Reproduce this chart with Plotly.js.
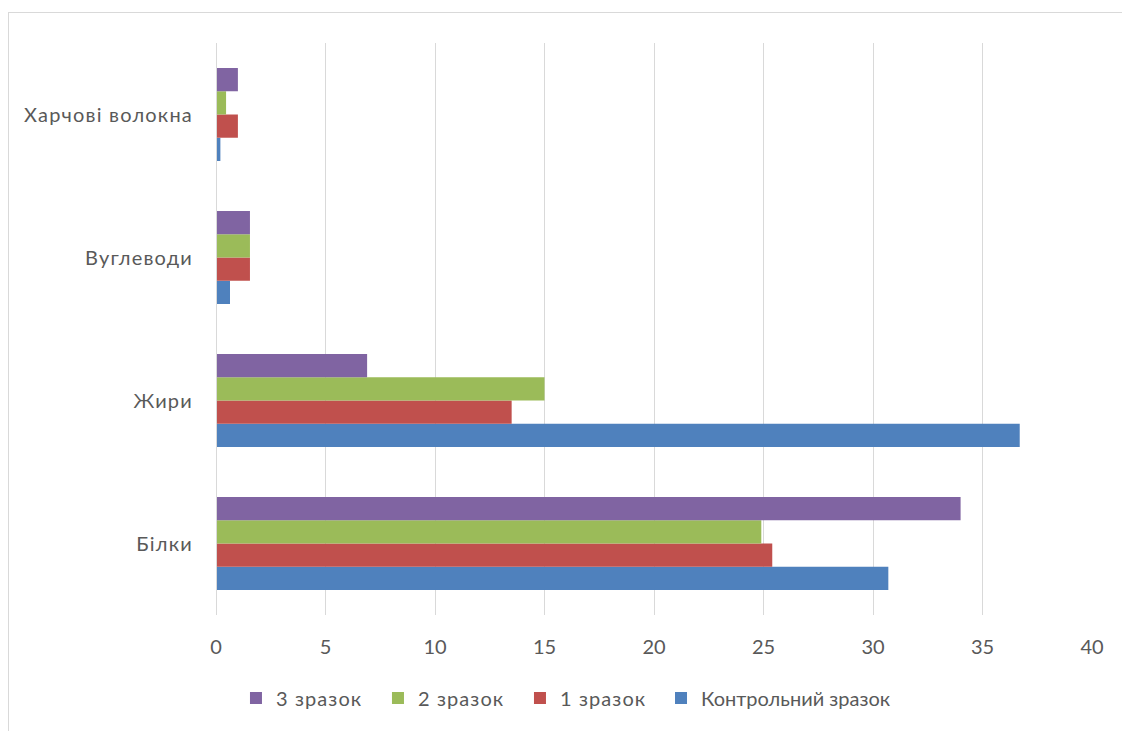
<!DOCTYPE html>
<html>
<head>
<meta charset="utf-8">
<script src="https://cdn.plot.ly/plotly-3.0.1.min.js"></script>
<style>
  html, body { margin: 0; padding: 0; background: #fff; }
  #frame { position: absolute; left: 8px; top: 12px; width: 1120px; height: 725px; border: 1px solid #d9d9d9; box-sizing: border-box; }
  #chart { position: absolute; left: 0; top: 0; width: 1122px; height: 731px; }
  #chart .ytick text { letter-spacing: 1.2px; }
  #chart .legendtext { letter-spacing: 1.1px; }
</style>
</head>
<body>
<div id="frame"></div>
<div id="chart"></div>
<script>
const categories = ["Білки", "Жири", "Вуглеводи", "Харчові волокна"];
const seriesNames = ["Контрольний зразок", "1 зразок", "2 зразок", "3 зразок"];
const control = [30.7, 36.7, 0.64, 0.2];
const sample1 = [25.4, 13.5, 1.55, 1.0];
const sample2 = [24.9, 15.0, 1.55, 0.46];
const sample3 = [34.0, 6.9, 1.55, 1.0];
const colors = ["#4f81bd", "#c0504d", "#9bbb59", "#8064a2"];
const xTicks = [0, 5, 10, 15, 20, 25, 30, 35, 40];

const seriesValues = [control, sample1, sample2, sample3];
const traces = seriesValues.map((vals, i) => ({
  type: "bar",
  orientation: "h",
  name: seriesNames[i],
  y: categories,
  x: vals,
  marker: { color: colors[i] },
  legend: i === 0 ? "legend2" : "legend",
  hoverinfo: "x+name"
}));

const legendCommon = {
  orientation: "h",
  xanchor: "left",
  y: -0.145, yanchor: "middle",
  font: { size: 20, color: "#595959" },
  itemwidth: 30,
  bgcolor: "rgba(0,0,0,0)"
};

const layout = {
  width: 1122,
  height: 731,
  margin: { l: 216, r: 30, t: 43, b: 116 },
  paper_bgcolor: "rgba(0,0,0,0)",
  plot_bgcolor: "rgba(0,0,0,0)",
  font: { family: "Lato, 'Open Sans', sans-serif", size: 20, color: "#595959" },
  barmode: "group",
  bargap: 0.35,
  bargroupgap: 0,
  showlegend: true,
  legend: Object.assign({}, legendCommon, {
    traceorder: "reversed",
    x: 0.0228,
    entrywidth: 97,
    entrywidthmode: "pixels"
  }),
  legend2: Object.assign({}, legendCommon, {
    x: 0.508
  }),
  xaxis: {
    range: [0, 40],
    tickvals: xTicks,
    ticktext: xTicks.map(String),
    showgrid: true,
    gridcolor: "#d9d9d9",
    gridwidth: 1,
    zeroline: false,
    showline: false,
    ticks: "",
    ticklabelstandoff: 18,
    fixedrange: true
  },
  yaxis: {
    type: "category",
    categoryorder: "array",
    categoryarray: categories,
    range: [-0.5, 3.5],
    showgrid: false,
    zeroline: false,
    showline: false,
    ticks: "",
    ticklabelstandoff: 22,
    fixedrange: true
  },
  shapes: [{
    type: "line", xref: "x", yref: "paper",
    x0: 0, x1: 0, y0: 0, y1: 1,
    line: { color: "#d9d9d9", width: 2 }
  }]
};

Plotly.newPlot("chart", traces, layout, { displayModeBar: false, staticPlot: true });
</script>
</body>
</html>
